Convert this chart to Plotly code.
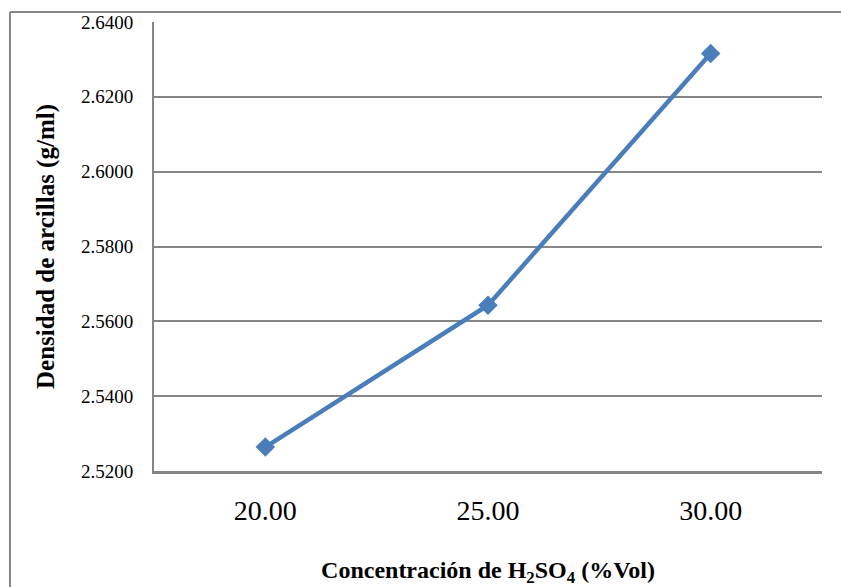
import plotly.graph_objects as go

categories = ["20.00", "25.00", "30.00"]
densidad = [2.5264, 2.5643, 2.6316]
y_ticks = [2.52, 2.54, 2.56, 2.58, 2.60, 2.62, 2.64]
y_tick_labels = ["2.5200", "2.5400", "2.5600", "2.5800", "2.6000", "2.6200", "2.6400"]

fig = go.Figure()
fig.add_trace(go.Scatter(
    x=categories, y=densidad, mode="lines+markers",
    line=dict(color="#4a7ebb", width=4.5),
    marker=dict(symbol="diamond", size=15, color="#4a7ebb"),
    showlegend=False,
))

serif = "Liberation Serif"
fig.update_layout(
    width=841, height=587,
    margin=dict(l=154, r=19, t=22, b=116),
    paper_bgcolor="white", plot_bgcolor="white",
    font=dict(family=serif, color="black"),
    xaxis=dict(
        type="category", showgrid=False, showline=True, linecolor="#868686", linewidth=2.5,
        tickfont=dict(size=28, family=serif, color="black"), ticks="", ticklabelstandoff=13,
        title=dict(text="<b>Concentración de H<sub>2</sub>SO<sub>4</sub> (%Vol)</b>",
                   font=dict(size=24, family=serif, color="black"), standoff=46),
        range=[-0.5, 2.5], zeroline=False, automargin=False,
    ),
    yaxis=dict(
        range=[2.52, 2.64], tickvals=y_ticks, ticktext=y_tick_labels,
        showgrid=True, gridcolor="#868686", gridwidth=1.5,
        showline=True, linecolor="#868686", linewidth=2,
        tickfont=dict(size=19, family=serif, color="black"), ticks="", ticklabelstandoff=15,
        title=dict(text="<b>Densidad de arcillas (g/ml)</b>",
                   font=dict(size=25, family=serif, color="black"), standoff=19),
        zeroline=False, automargin=False,
    ),
)

# outer chart frame (cropped at right and bottom)
fig.add_shape(type="line", xref="paper", yref="paper",
              x0=-0.2156, x1=-0.2156, y0=-0.3, y1=1.0223,
              line=dict(color="#868686", width=2))
fig.add_shape(type="line", xref="paper", yref="paper",
              x0=-0.2156, x1=1.05, y0=1.0223, y1=1.0223,
              line=dict(color="#868686", width=2))

fig.write_html("out.html")
